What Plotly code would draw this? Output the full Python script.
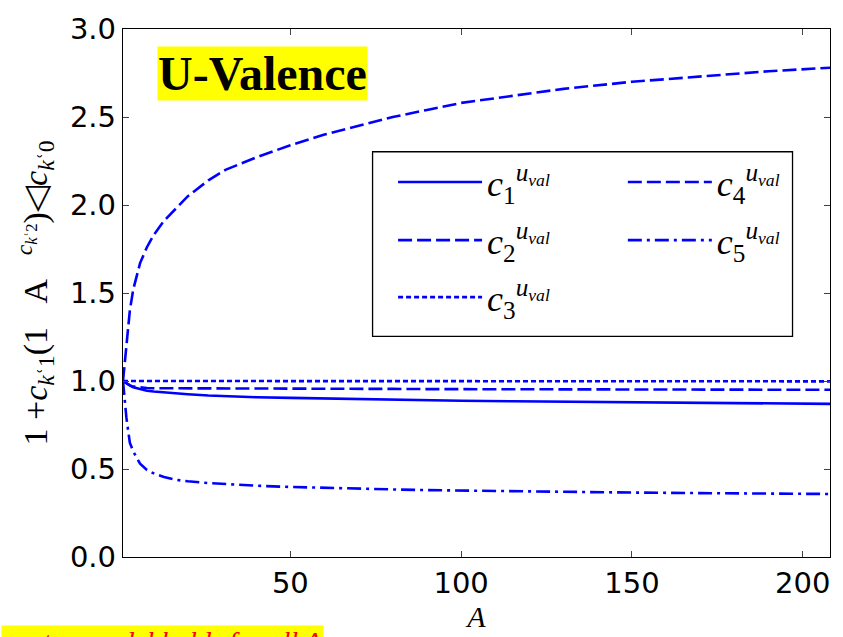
import plotly.graph_objects as go

A = [1, 2, 3, 4, 6, 8, 10, 13, 16, 20, 26, 31, 40, 50, 60, 70, 80, 90, 100, 115, 130, 150, 170, 190, 208]
c1 = [1.0, 0.985, 0.975, 0.965, 0.953, 0.945, 0.940, 0.935, 0.930, 0.925, 0.918, 0.914, 0.908, 0.904, 0.900, 0.896, 0.893, 0.890, 0.888, 0.885, 0.882, 0.879, 0.876, 0.873, 0.870]
c2 = [1.0, 0.985, 0.975, 0.968, 0.962, 0.960, 0.959, 0.959, 0.958, 0.958, 0.957, 0.957, 0.956, 0.956, 0.955, 0.955, 0.955, 0.954, 0.954, 0.953, 0.953, 0.952, 0.951, 0.951, 0.950]
c3 = [1.0, 1.0, 0.999, 0.999, 0.999, 0.999, 0.999, 0.999, 0.999, 0.999, 0.999, 0.999, 0.999, 0.999, 0.999, 0.998, 0.998, 0.998, 0.998, 0.998, 0.998, 0.998, 0.998, 0.998, 0.998]
c4 = [1.0, 1.22, 1.40, 1.52, 1.67, 1.76, 1.83, 1.91, 1.97, 2.05, 2.14, 2.20, 2.27, 2.34, 2.40, 2.45, 2.50, 2.54, 2.58, 2.62, 2.66, 2.70, 2.73, 2.76, 2.78]
c5 = [1.0, 0.79, 0.65, 0.60, 0.53, 0.495, 0.475, 0.455, 0.44, 0.43, 0.42, 0.414, 0.405, 0.398, 0.392, 0.388, 0.384, 0.380, 0.377, 0.373, 0.370, 0.366, 0.363, 0.360, 0.358]

x_ticks = [50, 100, 150, 200]
y_ticks = [0.0, 0.5, 1.0, 1.5, 2.0, 2.5, 3.0]

BLUE = "#0000ff"
SERIF = "Liberation Serif, DejaVu Serif, serif"
SANS = "DejaVu Sans, sans-serif"


def lab(n):
    return "<i>c</i><sub>%d</sub><sup><i>u</i><sub><i>val</i></sub></sup>" % n


# (values, dash, legend id, index, legend x, legend y)
series = [
    (c1, "solid", "legend", 1, 0.382, 0.71),
    (c2, "14px,5px", "legend2", 2, 0.382, 0.60),
    (c3, "5px,3px", "legend3", 3, 0.382, 0.492),
    (c4, "14px,5px", "legend4", 4, 0.707, 0.71),
    (c5, "14px,5px,3px,5px", "legend5", 5, 0.707, 0.60),
]

fig = go.Figure()
legends = {}
for ys, dash, lg, n, lx, ly in series:
    fig.add_trace(go.Scatter(
        x=A, y=ys, mode="lines", name=lab(n), legend=lg,
        line=dict(color=BLUE, width=2.6, dash=dash),
    ))
    legends[lg] = dict(x=lx, y=ly, xanchor="left", yanchor="middle",
                       bgcolor="rgba(0,0,0,0)", borderwidth=0,
                       font=dict(family=SERIF, size=36, color="black"),
                       tracegroupgap=0, itemwidth=84)

fig.update_layout(
    width=843, height=637,
    margin=dict(l=122.5, r=13.3, t=25, b=74.3),
    paper_bgcolor="white", plot_bgcolor="white",
    showlegend=True,
    xaxis=dict(range=[1, 208], tickvals=x_ticks, ticks="inside", ticklen=6,
               showline=True, linecolor="black", linewidth=1.3, mirror="ticks",
               showgrid=False, zeroline=False,
               tickfont=dict(family=SANS, size=29, color="black"),
               title=dict(text="<i>A</i>", font=dict(family=SERIF, size=30, color="black"), standoff=4)),
    yaxis=dict(range=[0, 3.0], tickvals=y_ticks, tickformat=".1f", ticks="inside", ticklen=6,
               showline=True, linecolor="black", linewidth=1.3, mirror="ticks",
               showgrid=False, zeroline=False,
               tickfont=dict(family=SANS, size=29, color="black"),
               title=dict(text="1 +<i>c</i><sub><i>k</i>ʿ1</sub>(1   A   <sup><i>c</i><sub><i>k</i>ʿ2</sub></sup>)◁<i>c</i><sub><i>k</i>ʿ0</sub>",
                          font=dict(family=SERIF, size=34, color="black"), standoff=12)),
    **legends,
)

fig.add_shape(type="rect", xref="paper", yref="paper",
              x0=0.353, x1=0.947, y0=0.418, y1=0.7675,
              line=dict(color="black", width=1.3), fillcolor="rgba(0,0,0,0)")

fig.add_annotation(xref="paper", yref="paper", x=0.197, y=0.916,
                   xanchor="center", yanchor="middle",
                   text="<b>U-Valence</b>", showarrow=False,
                   font=dict(family=SERIF, size=48, color="black"),
                   bgcolor="#ffff00", borderpad=0)

fig.add_annotation(xref="paper", yref="paper", x=-0.173, y=-0.129,
                   xanchor="left", yanchor="top",
                   text="<i>parton model holds for all A</i>", showarrow=False,
                   font=dict(family=SERIF, size=28, color="red"),
                   bgcolor="#ffff00", borderpad=0)

fig.write_html("out.html")
